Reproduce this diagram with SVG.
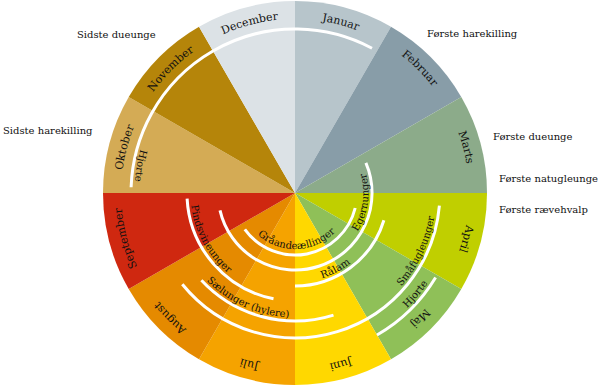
<svg xmlns="http://www.w3.org/2000/svg" width="600" height="386" viewBox="0 0 600 386">
<style>
.t{font-family:"DejaVu Serif","Liberation Serif",serif;font-size:10px;fill:#111}
.m{font-size:11px}
.arc{fill:none;stroke:#fff;stroke-width:3}
</style>
<defs>
<path id="mp" d="M 295 19 A 174 174 0 1 1 295 367 A 174 174 0 1 1 295 19"/>
<path id="c160" d="M 295 32.5 A 160.5 160.5 0 1 0 295 353.5 A 160.5 160.5 0 1 0 295 32.5"/>
<path id="c141" d="M 295 51.5 A 141.5 141.5 0 1 0 295 334.5 A 141.5 141.5 0 1 0 295 51.5"/>
<path id="c124" d="M 295 68.5 A 124.5 124.5 0 1 0 295 317.5 A 124.5 124.5 0 1 0 295 68.5"/>
<path id="c104" d="M 295 88.5 A 104.5 104.5 0 1 0 295 297.5 A 104.5 104.5 0 1 0 295 88.5"/>
<path id="c89" d="M 295 103.5 A 89.5 89.5 0 1 0 295 282.5 A 89.5 89.5 0 1 0 295 103.5"/>
<path id="c73" d="M 295 119.5 A 73.5 73.5 0 1 0 295 266.5 A 73.5 73.5 0 1 0 295 119.5"/>
<path id="c56" d="M 295 137 A 56 56 0 1 0 295 249 A 56 56 0 1 0 295 137"/>
</defs>
<g id="months">
<g id="januar"><path fill="#B7C5CB" d="M295 193 L295 1 A192 192 0 0 1 391 26.72Z"/><text class="t m"><textPath href="#mp" startOffset="4.1667%" text-anchor="middle">Januar</textPath></text></g>
<g id="februar"><path fill="#889DA8" d="M295 193 L391 26.72 A192 192 0 0 1 461.28 97Z"/><text class="t m"><textPath href="#mp" startOffset="12.5%" text-anchor="middle">Februar</textPath></text></g>
<g id="marts"><path fill="#8CAB8A" d="M295 193 L461.28 97 A192 192 0 0 1 487 193Z"/><text class="t m"><textPath href="#mp" startOffset="20.833%" text-anchor="middle">Marts</textPath></text></g>
<g id="april"><path fill="#C0CF00" d="M295 193 L487 193 A192 192 0 0 1 461.28 289Z"/><text class="t m"><textPath href="#mp" startOffset="29.167%" text-anchor="middle">April</textPath></text></g>
<g id="maj"><path fill="#8FC058" d="M295 193 L461.28 289 A192 192 0 0 1 391 359.28Z"/><text class="t m"><textPath href="#mp" startOffset="37.5%" text-anchor="middle">Maj</textPath></text></g>
<g id="juni"><path fill="#FFD800" d="M295 193 L391 359.28 A192 192 0 0 1 295 385Z"/><text class="t m"><textPath href="#mp" startOffset="45.833%" text-anchor="middle">Juni</textPath></text></g>
<g id="juli"><path fill="#F5A300" d="M295 193 L295 385 A192 192 0 0 1 199 359.28Z"/><text class="t m"><textPath href="#mp" startOffset="54.167%" text-anchor="middle">Juli</textPath></text></g>
<g id="august"><path fill="#E58A00" d="M295 193 L199 359.28 A192 192 0 0 1 128.72 289Z"/><text class="t m"><textPath href="#mp" startOffset="62.5%" text-anchor="middle">August</textPath></text></g>
<g id="september"><path fill="#CF2810" d="M295 193 L128.72 289 A192 192 0 0 1 103 193Z"/><text class="t m"><textPath href="#mp" startOffset="70.833%" text-anchor="middle">September</textPath></text></g>
<g id="oktober"><path fill="#D4AB55" d="M295 193 L103 193 A192 192 0 0 1 128.72 97Z"/><text class="t m"><textPath href="#mp" startOffset="79.167%" text-anchor="middle">Oktober</textPath></text></g>
<g id="november"><path fill="#B5850A" d="M295 193 L128.72 97 A192 192 0 0 1 199 26.72Z"/><text class="t m"><textPath href="#mp" startOffset="87.5%" text-anchor="middle">November</textPath></text></g>
<g id="december"><path fill="#DCE2E6" d="M295 193 L199 26.72 A192 192 0 0 1 295 1Z"/><text class="t m"><textPath href="#mp" startOffset="95.833%" text-anchor="middle">December</textPath></text></g>
</g>
<g id="connectors">
<g id="hjorte-efterar"><path class="arc" d="M 131.1 187.3 A 164 164 0 0 1 372 48.2"/><text class="t"><textPath href="#c160" startOffset="22.222%" text-anchor="middle">Hjorte</textPath></text></g>
<g id="hjorte-maj"><path class="arc" d="M 435.6 277.5 A 164 164 0 0 1 377 335"/><text class="t"><textPath href="#c160" startOffset="63.889%" text-anchor="middle">Hjorte</textPath></text></g>
<g id="smaafugleunger"><path class="arc" d="M 439.4 205.6 A 145 145 0 0 1 182.3 284.2"/><text class="t"><textPath href="#c141" startOffset="67.917%" text-anchor="middle">Småfugleunger</textPath></text></g>
<g id="saelunger"><path class="arc" d="M 333.5 315.1 A 128 128 0 0 1 201.4 280.3"/><text class="t"><textPath href="#c124" startOffset="43.333%" text-anchor="middle">Sælunger (hylere)</textPath></text></g>
<g id="pindsvineunger"><path class="arc" d="M 273.5 298.8 A 108 108 0 0 1 187.1 198.65"/><text class="t"><textPath href="#c104" startOffset="32.917%" text-anchor="middle">Pindsvineunger</textPath></text></g>
<g id="raalam"><path class="arc" d="M 383.9 220.2 A 93 93 0 0 1 295 286"/><text class="t"><textPath href="#c89" startOffset="57.778%" text-anchor="middle">Rålam</textPath></text></g>
<g id="egernunger"><path class="arc" d="M 365.9 162.9 A 77 77 0 1 1 220 210.3"/><text class="t"><textPath href="#c73" startOffset="72.778%" text-anchor="middle">Egernunger</textPath></text></g>
<g id="graaandeaellinger"><path class="arc" d="M 355.2 208 A 62 62 0 0 1 244.8 229.4"/><text class="t"><textPath href="#c56" startOffset="50.556%" text-anchor="middle">Gråandeællinger</textPath></text></g>
</g>
<g id="notes">
<text class="t" x="427" y="37">Første harekilling</text>
<text class="t" x="493" y="140">Første dueunge</text>
<text class="t" x="499" y="182">Første natugleunge</text>
<text class="t" x="499" y="213">Første rævehvalp</text>
<text class="t" x="77" y="38">Sidste dueunge</text>
<text class="t" x="3" y="134">Sidste harekilling</text>
</g>
</svg>
